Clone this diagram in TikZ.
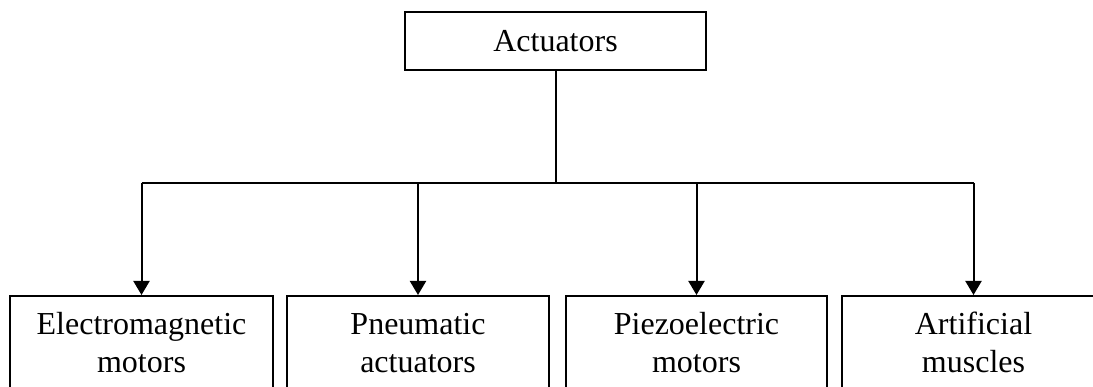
\documentclass[tikz,border=0pt]{standalone}
\usepackage{fontspec}
\setmainfont{Liberation Serif}
\usepackage{tikz}
\usetikzlibrary{arrows.meta}

\tikzset{
	box/.style={draw,line width=2.4pt,rectangle,align=center,inner sep=0pt},
	kind/.style={box,anchor=north,minimum width=262pt,minimum height=93pt}
}

\begin{document}
\begin{tikzpicture}[x=1pt,y=1pt,font=\fontsize{32}{38}\selectfont]
		\clip (0,0) rectangle (1093,387);
		\node[box,minimum width=301pt,minimum height=58pt] (act) at (555.5,346) {Actuators};
		\coordinate (bus) at (555.5,204);
		%
		\node[kind,minimum width=263pt] (em) at (141.5,92) {Electromagnetic\\motors};
		\node[kind] (pn) at (418,92) {Pneumatic\\actuators};
		\node[kind,minimum width=261pt] (pz) at (696.5,92) {Piezoelectric\\motors};
		\node[kind,minimum width=263pt] (am) at (973.5,92) {Artificial\\muscles};
		%
		% trunk and bus
		\draw[line width=2pt] (act) -- (bus);
		\draw[line width=2pt] (bus -| em.north) -- (bus -| am.north);
		% arrows down to the boxes
		\path[line width=2pt,-{Triangle[width=16pt,length=14pt]}]
		(bus -| em.north) edge (em.north)
		(bus -| pn.north) edge (pn.north)
		(bus -| pz.north) edge (pz.north)
		(bus -| am.north) edge (am.north);
	\end{tikzpicture}
\end{document}
